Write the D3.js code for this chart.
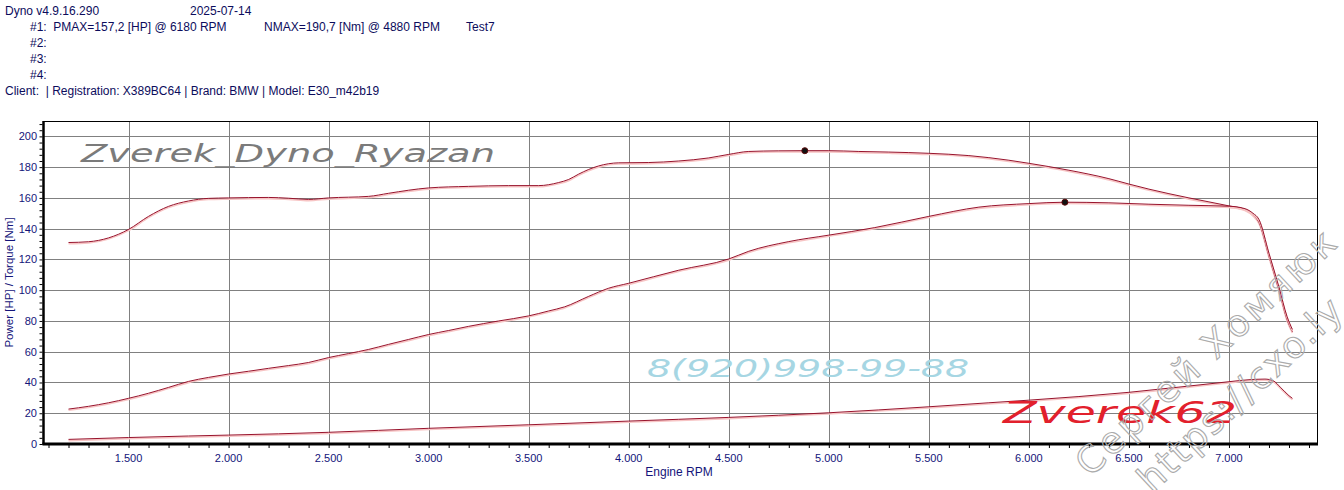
<!DOCTYPE html>
<html>
<head>
<meta charset="utf-8">
<script src="https://cdn.jsdelivr.net/npm/d3@7"></script>
<style>
  html, body { margin: 0; padding: 0; background: #fff; }
  svg { display: block; }
</style>
</head>
<body>
<div id="chart"></div>
<script>
// values
var torqueRpm = [1200, 1300, 1400, 1500, 1600, 1700, 1800, 1900, 2000, 2200, 2300, 2400, 2500, 2700, 2800, 2900, 3000, 3200, 3400, 3550, 3650, 3700, 3750, 3800, 3850, 3950, 4100, 4250, 4400, 4500, 4600, 4750, 4880, 5000, 5150, 5300, 5500, 5700, 5900, 6000, 6200, 6400, 6500, 6600, 6800, 7000, 7080, 7120, 7150, 7200, 7250, 7290, 7317];
var torqueNm = [131.0, 131.5, 134, 139.5, 148, 154.5, 158, 159.7, 160, 160.3, 159.8, 159, 160, 161, 163, 165, 166.5, 167.5, 168, 168, 170, 172, 175.5, 178.5, 180.8, 182.8, 183, 184, 186, 188.3, 190.2, 190.6, 190.7, 190.7, 190.2, 189.8, 189, 187.5, 184.5, 182.5, 178, 172.5, 169, 165.7, 160, 154.8, 152.5, 149, 144, 122, 100, 81, 73];

var powerRpm = [1200, 1300, 1400, 1500, 1600, 1700, 1800, 1900, 2000, 2100, 2200, 2300, 2400, 2500, 2600, 2700, 2800, 2900, 3000, 3100, 3200, 3350, 3500, 3600, 3680, 3800, 3900, 4000, 4250, 4500, 4600, 4800, 5000, 5230, 5500, 5750, 6000, 6180, 6400, 6600, 6800, 7000, 7080, 7120, 7150, 7200, 7250, 7290, 7317];
var powerHp = [22.7, 24.5, 26.8, 29.7, 33, 36.8, 40.7, 43.3, 45.5, 47.3, 49.2, 51, 53, 56.2, 58.8, 61.5, 64.8, 68, 71.2, 73.8, 76.5, 80, 83.3, 86.5, 89.2, 96, 101.3, 104.5, 113, 120.3, 125.3, 131.6, 135.8, 140.7, 148, 154, 156.3, 157.2, 156.8, 155.9, 155.2, 154.6, 153, 150, 146, 124, 102, 83, 74.5];

var lossRpm = [1200, 1500, 1800, 2000, 2500, 3000, 3500, 4000, 4500, 5000, 5500, 5800, 6000, 6500, 7000, 7100, 7180, 7220, 7260, 7300, 7317];
var lossHp = [3.0, 4.2, 5.2, 5.8, 7.6, 10.2, 12.5, 14.9, 17.3, 20.3, 24.2, 26.8, 28.5, 33.6, 40.5, 41.8, 42.2, 41.2, 36.5, 31.4, 29.7];

// peak markers [rpm, value]
var peaks = [[4880, 190.7], [6180, 157.2]];

var xTicks = [1500, 2000, 2500, 3000, 3500, 4000, 4500, 5000, 5500, 6000, 6500, 7000];
var xTickLabels = ['1.500', '2.000', '2.500', '3.000', '3.500', '4.000', '4.500', '5.000', '5.500', '6.000', '6.500', '7.000'];
var yTicks = [0, 20, 40, 60, 80, 100, 120, 140, 160, 180, 200];

var headerLines = [
    {x: 5, y: 15, t: 'Dyno v4.9.16.290'},
    {x: 190, y: 15, t: '2025-07-14'},
    {x: 30, y: 31, t: '#1:  PMAX=157,2 [HP] @ 6180 RPM'},
    {x: 264, y: 31, t: 'NMAX=190,7 [Nm] @ 4880 RPM'},
    {x: 466, y: 31, t: 'Test7'},
    {x: 30, y: 47, t: '#2:'},
    {x: 30, y: 63, t: '#3:'},
    {x: 30, y: 79, t: '#4:'},
    {x: 5, y: 95, t: 'Client:  | Registration: X389BC64 | Brand: BMW | Model: E30_m42b19'}
];

var width = 1344,
    height = 490,
    plotLeft = 43.5, plotRight = 1317, plotTop = 121, plotBottom = 444;

var svg = d3.select('#chart').append('svg')
    .attr('width', width)
    .attr('height', height);

var x = d3.scaleLinear().domain([1075, 7440]).range([plotLeft, plotRight]);
var y = d3.scaleLinear().domain([0, 210]).range([plotBottom, plotTop]);

// header
svg.append('g').selectAll('text')
    .data(headerLines)
    .enter().append('text')
    .attr('x', function(d) { return d.x; })
    .attr('y', function(d) { return d.y; })
    .attr('font-family', 'Liberation Sans, Arial, sans-serif')
    .attr('font-size', 12)
    .attr('fill', '#0c0c5c')
    .style('white-space', 'pre')
    .text(function(d) { return d.t; });

// grid
var grid = svg.append('g').attr('stroke', '#808080').attr('stroke-width', 1);
grid.selectAll('.vx')
    .data(xTicks)
    .enter().append('line')
    .attr('x1', function(d) { return Math.round(x(d)) + 0.5; })
    .attr('x2', function(d) { return Math.round(x(d)) + 0.5; })
    .attr('y1', plotTop).attr('y2', plotBottom);
grid.selectAll('.hy')
    .data(yTicks.filter(function(d) { return d > 0; }))
    .enter().append('line')
    .attr('y1', function(d) { return Math.round(y(d)) + 0.5; })
    .attr('y2', function(d) { return Math.round(y(d)) + 0.5; })
    .attr('x1', plotLeft).attr('x2', plotRight);

// frame
svg.append('line').attr('x1', plotLeft).attr('x2', plotRight + 0.5).attr('y1', plotTop + 0.5).attr('y2', plotTop + 0.5).attr('stroke', '#000');
svg.append('line').attr('x1', plotRight + 0.5).attr('x2', plotRight + 0.5).attr('y1', plotTop).attr('y2', plotBottom).attr('stroke', '#000');

// axes
var xAxis = d3.axisBottom(x)
    .tickValues(d3.range(1100, 7440, 100))
    .tickSize(3)
    .tickFormat('');
var gx = svg.append('g').attr('transform', 'translate(0,' + (plotBottom + 1) + ')').call(xAxis);
gx.select('.domain').remove();

svg.append('g').selectAll('text')
    .data(xTicks)
    .enter().append('text')
    .attr('x', function(d) { return x(d); })
    .attr('y', 462)
    .attr('text-anchor', 'middle')
    .attr('font-family', 'Liberation Sans, Arial, sans-serif')
    .attr('font-size', 11)
    .attr('fill', '#14147a')
    .text(function(d, i) { return xTickLabels[i]; });

var yAxis = d3.axisLeft(y)
    .tickValues(d3.range(0, 210, 4))
    .tickSize(3)
    .tickFormat('');
var gy = svg.append('g').attr('transform', 'translate(' + (plotLeft - 1) + ',0)').call(yAxis);
gy.select('.domain').remove();

svg.append('g').selectAll('text')
    .data(yTicks)
    .enter().append('text')
    .attr('x', 37)
    .attr('y', function(d) { return y(d) + 4; })
    .attr('text-anchor', 'end')
    .attr('font-family', 'Liberation Sans, Arial, sans-serif')
    .attr('font-size', 11)
    .attr('fill', '#14147a')
    .text(function(d) { return d; });

svg.append('line').attr('x1', plotLeft).attr('x2', plotLeft).attr('y1', plotTop).attr('y2', plotBottom + 1)
    .attr('stroke', '#000').attr('stroke-width', 2.5);
svg.append('line').attr('x1', plotLeft - 1).attr('x2', plotRight + 1).attr('y1', plotBottom).attr('y2', plotBottom)
    .attr('stroke', '#000').attr('stroke-width', 3);

svg.append('text')
    .attr('x', 679).attr('y', 476)
    .attr('text-anchor', 'middle')
    .attr('font-family', 'Liberation Sans, Arial, sans-serif')
    .attr('font-size', 12)
    .attr('fill', '#14147a')
    .text('Engine RPM');

svg.append('text')
    .attr('transform', 'translate(13,' + ((plotTop + plotBottom) / 2) + ') rotate(-90)')
    .attr('text-anchor', 'middle')
    .attr('font-family', 'Liberation Sans, Arial, sans-serif')
    .attr('font-size', 11.5)
    .attr('fill', '#14147a')
    .text('Power [HP] / Torque [Nm]');

// watermarks inside plot
svg.append('text')
    .attr('x', 81).attr('y', 161.5)
    .attr('font-family', 'DejaVu Sans, Verdana, sans-serif')
    .attr('font-style', 'italic')
    .attr('font-size', 24)
    .attr('textLength', 414)
    .attr('lengthAdjust', 'spacingAndGlyphs')
    .attr('fill', '#7b7b7b')
    .text('Zverek_Dyno_Ryazan');

svg.append('text')
    .attr('x', 647).attr('y', 377)
    .attr('font-family', 'DejaVu Sans, Verdana, sans-serif')
    .attr('font-style', 'italic')
    .attr('font-size', 25)
    .attr('textLength', 322)
    .attr('lengthAdjust', 'spacingAndGlyphs')
    .attr('fill', '#a6d6e3')
    .text('8(920)998-99-88');

// curves
var series = [
    {rpm: torqueRpm, val: torqueNm},
    {rpm: powerRpm, val: powerHp},
    {rpm: lossRpm, val: lossHp}
];

var line = d3.line()
    .x(function(d) { return x(d[0]); })
    .y(function(d) { return y(d[1]); })
    .curve(d3.curveMonotoneX);

var curves = svg.append('g').attr('fill', 'none');
series.forEach(function(s) {
    var pts = s.rpm.map(function(r, i) { return [r, s.val[i]]; });
    curves.append('path')
        .attr('d', line(pts))
        .attr('transform', 'translate(0,1.2)')
        .attr('stroke', '#f7c4c4')
        .attr('stroke-width', 1.6);
    curves.append('path')
        .attr('d', line(pts))
        .attr('stroke', '#98132c')
        .attr('stroke-width', 1);
});

svg.selectAll('.peak')
    .data(peaks)
    .enter().append('circle')
    .attr('class', 'peak')
    .attr('cx', function(d) { return x(d[0]); })
    .attr('cy', function(d) { return y(d[1]); })
    .attr('r', 3)
    .attr('fill', '#111')
    .attr('stroke', '#5a0a0a');

svg.append('text')
    .attr('x', 1003).attr('y', 423)
    .attr('font-family', 'DejaVu Sans, Verdana, sans-serif')
    .attr('font-style', 'italic')
    .attr('font-size', 31)
    .attr('textLength', 234)
    .attr('lengthAdjust', 'spacingAndGlyphs')
    .attr('fill', '#e2202c')
    .text('Zverek62');

// diagonal outline watermark
var stamp = svg.append('g')
    .attr('fill', 'none')
    .attr('stroke', '#ababab')
    .attr('stroke-width', 1.1)
    .attr('font-family', 'DejaVu Sans, Verdana, sans-serif')
    .attr('font-size', 37);
stamp.append('text')
    .attr('transform', 'translate(1090,478) rotate(-43)')
    .attr('textLength', 340)
    .attr('lengthAdjust', 'spacing')
    .text('Сергей Хомяюк');
stamp.append('text')
    .attr('transform', 'translate(1152,494) rotate(-43)')
    .attr('textLength', 264)
    .attr('lengthAdjust', 'spacing')
    .text('https://cxo.ly');
</script>
</body>
</html>
